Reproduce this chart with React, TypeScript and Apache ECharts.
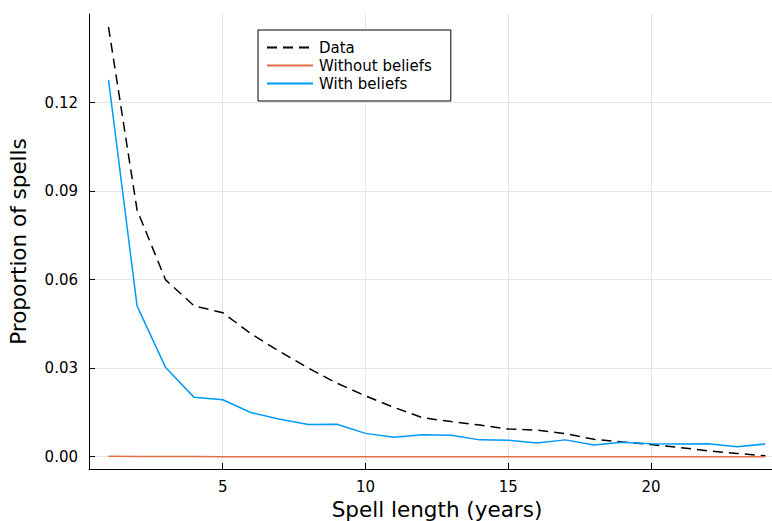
import React, { useEffect, useRef } from "react";
import * as echarts from "echarts";

const spellLength = [1, 2, 3, 4, 5, 6, 7, 8, 9, 10, 11, 12, 13, 14, 15, 16, 17, 18, 19, 20, 21, 22, 23, 24];
const dataValues = [0.1456, 0.0836, 0.0599, 0.0511, 0.0488, 0.0416, 0.0356, 0.0300, 0.0249, 0.0206, 0.0167, 0.0132, 0.0119, 0.0107, 0.0094, 0.0090, 0.0078, 0.0059, 0.0050, 0.0041, 0.0031, 0.0020, 0.0011, 0.0003];
const withoutBeliefs = [0.00015, 0.0001, 0.00005, 0.00003, 0.00002, 0.00001, 0.00001, 0, 0, 0, 0, 0, 0, 0, 0, 0, 0, 0, 0, 0, 0, 0, 0, 0];
const withBeliefs = [0.1277, 0.0511, 0.0302, 0.0201, 0.0193, 0.0149, 0.0127, 0.0109, 0.0110, 0.0079, 0.0066, 0.0074, 0.0073, 0.0057, 0.0056, 0.0046, 0.0057, 0.0040, 0.0049, 0.0044, 0.0043, 0.0044, 0.0034, 0.0043];
const xTicks = [5, 10, 15, 20];
const yTicks = [0, 0.03, 0.06, 0.09, 0.12];

const FONT = "DejaVu Sans";

export default function App() {
  const ref = useRef<HTMLDivElement>(null);
  useEffect(() => {
    if (!ref.current) return;
    const chart = echarts.init(ref.current, undefined, { renderer: "svg" });
    const pair = (ys: number[]) => spellLength.map((x, i) => [x, ys[i]]);
    chart.setOption({
      animation: false,
      backgroundColor: "#ffffff",
      textStyle: { fontFamily: FONT },
      grid: { left: 89, top: 14, width: 696, height: 455, containLabel: false, outerBoundsMode: "none" },
      legend: {
        left: 258,
        top: 30,
        orient: "vertical",
        borderColor: "#000000",
        borderWidth: 1,
        backgroundColor: "#ffffff",
        padding: [10, 19, 10, 8],
        itemWidth: 46,
        itemHeight: 14,
        itemGap: 3,
        itemStyle: { opacity: 0 },
        textStyle: { fontFamily: FONT, fontSize: 15, color: "#000000", padding: [0, 0, 0, 1] },
        data: ["Data", "Without beliefs", "With beliefs"],
      },
      xAxis: {
        type: "value",
        min: 0.317,
        max: 24.69,
        name: "Spell length (years)",
        nameLocation: "middle",
        nameGap: 27,
        nameTextStyle: { fontFamily: FONT, fontSize: 21.5, color: "#000000" },
        axisLine: { show: true, onZero: false, lineStyle: { color: "#000000", width: 1 } },
        axisTick: { show: true, inside: true, length: 6, customValues: xTicks, lineStyle: { color: "#000000" } },
        axisLabel: { customValues: xTicks, fontFamily: FONT, fontSize: 15, color: "#000000", margin: 10 },
        splitLine: { show: true, lineStyle: { color: "#e6e6e6", width: 1 } },
      },
      yAxis: {
        type: "value",
        min: -0.00417,
        max: 0.150,
        name: "Proportion of spells",
        nameLocation: "middle",
        nameGap: 60,
        nameTextStyle: { fontFamily: FONT, fontSize: 21.5, color: "#000000" },
        axisLine: { show: true, onZero: false, lineStyle: { color: "#000000", width: 1 } },
        axisTick: { show: true, inside: true, length: 6, customValues: yTicks, lineStyle: { color: "#000000" } },
        axisLabel: {
          customValues: yTicks,
          fontFamily: FONT,
          fontSize: 15,
          color: "#000000",
          margin: 11,
          formatter: (v: number) => v.toFixed(2),
        },
        splitLine: { show: true, lineStyle: { color: "#e6e6e6", width: 1 } },
      },
      series: [
        {
          name: "Data",
          type: "line",
          data: pair(dataValues),
          symbol: "none",
          color: "#000000",
          lineStyle: { color: "#000000", width: 1.5, type: [10, 6] },
        },
        {
          name: "Without beliefs",
          type: "line",
          data: pair(withoutBeliefs),
          symbol: "none",
          color: "#e26f46",
          lineStyle: { color: "#e26f46", width: 1.5 },
        },
        {
          name: "With beliefs",
          type: "line",
          data: pair(withBeliefs),
          symbol: "none",
          color: "#009af9",
          lineStyle: { color: "#009af9", width: 1.5 },
        },
      ],
    });
    return () => chart.dispose();
  }, []);
  return (
    <div
      ref={ref}
      style={{ position: "fixed", left: 0, top: 0, width: 772, height: 521, background: "#ffffff" }}
    />
  );
}
